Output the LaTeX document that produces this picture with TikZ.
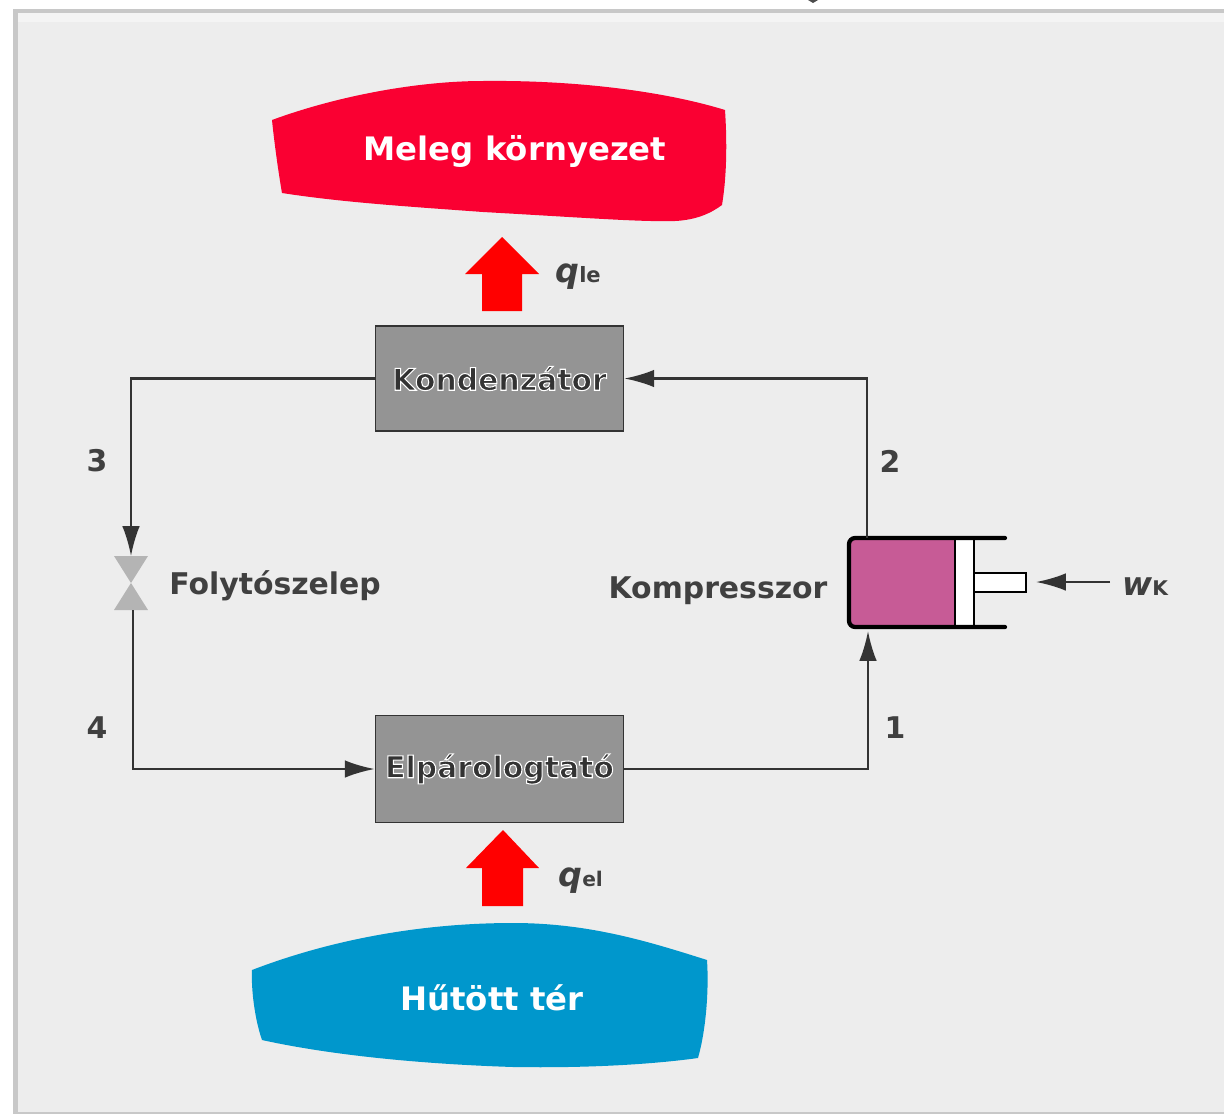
\documentclass[tikz,border=0pt]{standalone}
\usepackage{fontspec}
\setmainfont{DejaVu Sans}
\usetikzlibrary{arrows.meta,calc}
\definecolor{bgc}{HTML}{EDEDED}
\definecolor{framec}{HTML}{C8C8C8}
\definecolor{boxc}{HTML}{949494}
\definecolor{linec}{HTML}{333333}
\definecolor{txtc}{HTML}{404040}
\definecolor{hotc}{HTML}{FA0032}
\definecolor{coldc}{HTML}{0097CC}
\definecolor{pistc}{HTML}{C75B96}
\definecolor{valvec}{HTML}{B4B4B4}
\newcommand{\haloOn}{\special{pdf:code 2 Tr 0.6 w 1 1 1 RG}}
\newcommand{\haloOff}{\special{pdf:code 0 Tr 0 w}}
\tikzset{
  x=0.02cm,y=-0.02cm,
  unit box/.style={draw=linec,line width=1pt,fill=boxc,minimum width=4.96cm,minimum height=2.1cm,inner sep=0pt,text=linec,font=\fontsize{17}{20}\selectfont\bfseries},
  pipe/.style={draw=linec,line width=1.3pt},
  pipearrow/.style={pipe,-{Latex[length=17pt,width=10pt]}},
  lab/.style={text=txtc,font=\fontsize{17}{20}\selectfont\bfseries,inner sep=0pt},
  numlab/.style={text=txtc,font=\fontsize{17}{20}\selectfont\bfseries,inner sep=0pt},
  heat/.style={fill=red,draw=none},
  cyl/.style={draw=black,line width=2.4pt,line cap=round,rounded corners=3.5pt},
  thin cyl/.style={draw=black,line width=1.4pt},
  env/.style={text=white,inner sep=0pt,font=\fontsize{18.4}{22}\selectfont\bfseries}
}
\begin{document}
\begin{tikzpicture}
\useasboundingbox (0,0) rectangle (1224,1116);
\fill[white] (0,0) rectangle (1224,1116);
% panel
\fill[framec] (13,9) rectangle (1224,1114);
\fill[bgc] (18,13) rectangle (1224,1112);
\fill[bgc!60!white] (18,13) rectangle (1224,22);
\fill[black!70] (808,0) -- (818,0) -- (813,3) -- cycle;
% environments
\path[fill=hotc] (272,120) .. controls (340,95) and (420,81) .. (483,81)
  .. controls (570,80) and (660,90) .. (725,110)
  .. controls (727,140) and (727,175) .. (722,205)
  .. controls (710,214) and (695,220) .. (675,221)
  .. controls (640,222) and (590,218) .. (483,212)
  .. controls (400,206) and (340,202) .. (282,193)
  .. controls (278,170) and (274,140) .. (272,120) -- cycle;
\node[env] (hot) at (515,151) {Meleg környezet};
\path[fill=coldc] (252,970) .. controls (330,940) and (420,923) .. (513,923)
  .. controls (590,923) and (650,942) .. (707,960)
  .. controls (709,990) and (706,1030) .. (698,1058)
  .. controls (640,1066) and (570,1068) .. (513,1067)
  .. controls (420,1064) and (330,1055) .. (262,1040)
  .. controls (255,1020) and (251,990) .. (252,970) -- cycle;
\node[env] (cold) at (492,998) {Hűtött tér};
% units
\node[unit box] (kond) at (499.5,378.5) {\haloOn Kondenzátor\haloOff};
\node[unit box,minimum height=2.14cm] (elp) at (499.5,769) {\haloOn Elpárologtató\haloOff};
% heat arrows
\path[heat] (482,311) -- (482,274) -- (465,274) -- (502,237) -- (539,274) -- (522,274) -- (522,311) -- cycle;
\path[heat] (482,906) -- (482,868) -- (466,868) -- (503,830) -- (539,868) -- (523,868) -- (523,906) -- cycle;
\node[text=txtc,inner sep=0pt,anchor=base west] (qle) at (555,282) {\fontsize{19}{22}\selectfont\bfseries\itshape q\fontsize{12}{15}\selectfont\upshape le};
\node[text=txtc,inner sep=0pt,anchor=base west] (qel) at (558,886) {\fontsize{19}{22}\selectfont\bfseries\itshape q\fontsize{11.5}{15}\selectfont\upshape el};
% compressor
\fill[pistc] (849,538) rectangle (955,627);
\fill[white] (955,538) rectangle (974,627);
\fill[white] (974,573) rectangle (1026,592);
\draw[thin cyl] (974,573) rectangle (1026,592);
\draw[thin cyl] (955,538) -- (955,627);
\draw[thin cyl] (974,538) -- (974,627);
\draw[cyl] (1005,538) -- (849,538) -- (849,627) -- (1005,627);
\coordinate (compTop) at (867,538);
\coordinate (compBot) at (868,631);
\coordinate (rodEnd) at (1036,582);
\node[lab,anchor=center] (komplab) at (718,591) {Kompresszor};
\node[text=txtc,inner sep=0pt,anchor=base west] (wk) at (1122,595) {\fontsize{18.5}{22}\selectfont\bfseries\itshape w\fontsize{11.5}{15}\selectfont\upshape K};
\coordinate (wkStart) at (1110,582);
\draw[pipearrow] (wkStart) -- (rodEnd);
% valve
\coordinate (vc) at (131,583);
\fill[valvec] (114,556) -- (148,556) -- (vc) -- cycle;
\fill[valvec] (114,610) -- (148,610) -- (vc) -- cycle;
\node[lab,anchor=west] (follab) at (169,586) {Folytószelep};
\coordinate (vTop) at (131,556);
\coordinate (vBot) at (133,610);
% pipes
\draw[pipearrow] (compTop) |- (kond.east);
\draw[pipearrow] (kond.west) -| (vTop);
\draw[pipearrow] (elp.east) -| (compBot);
\draw[pipearrow] (vBot) |- (elp.west);
% numbers
\node[numlab] (n3) at (97,461) {3};
\node[numlab] (n4) at (97,728) {4};
\node[numlab] (n2) at (890,461) {2};
\node[numlab] (n1) at (895,728) {1};
\end{tikzpicture}
\end{document}
